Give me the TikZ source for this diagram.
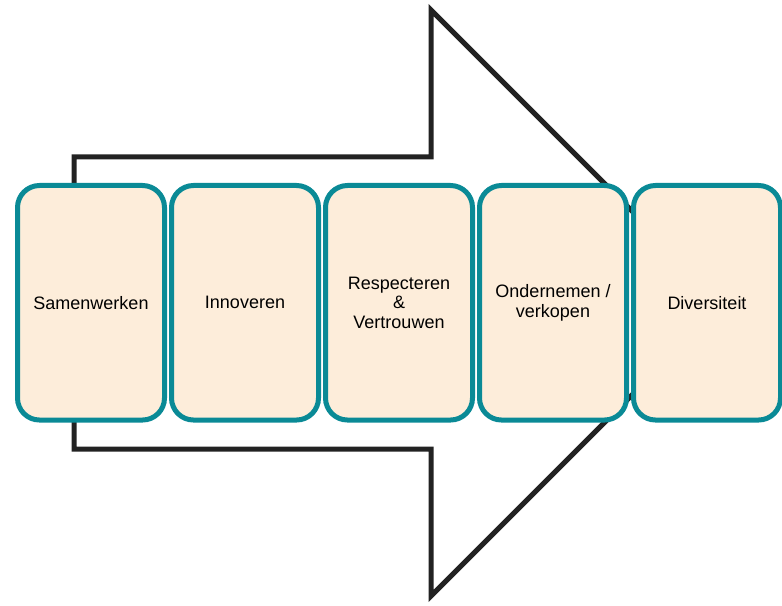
\documentclass[tikz,border=0pt]{standalone}
\usepackage{fontspec}
\setmainfont{Liberation Sans}
\definecolor{tealb}{RGB}{10,138,150}
\definecolor{peach}{RGB}{253,237,218}
\definecolor{arrowc}{RGB}{34,34,34}
\begin{document}
\begin{tikzpicture}[x=0.75pt,y=-0.75pt,
  valuebox/.style={draw=tealb,fill=peach,line width=3.75pt,rounded corners=16.5pt,
    minimum width=110.25pt,minimum height=175.9pt,inner sep=0pt,outer sep=0pt,anchor=north west,
    align=center,font=\fontsize{13.5pt}{14.5pt}\selectfont,text=black},
  bigarrow/.style={draw=arrowc,line width=3.75pt,miter limit=10,line join=miter}]
\useasboundingbox (0,0) rectangle (782,606);
\draw[bigarrow] (74,157) -- (431,157) -- (431,10) -- (724,303) -- (431,596) -- (431,449) -- (74,449) -- cycle;
\node[valuebox] (b1) at (17.5,185.5) {Samenwerken};
\node[valuebox] (b2) at (171.5,185.5) {Innoveren};
\node[valuebox] (b3) at (325.5,185.5) {Respecteren\\\&\\Vertrouwen};
\node[valuebox] (b4) at (479.5,185.5) {Ondernemen /\\verkopen};
\node[valuebox] (b5) at (633.5,185.5) {Diversiteit};
\end{tikzpicture}
\end{document}
